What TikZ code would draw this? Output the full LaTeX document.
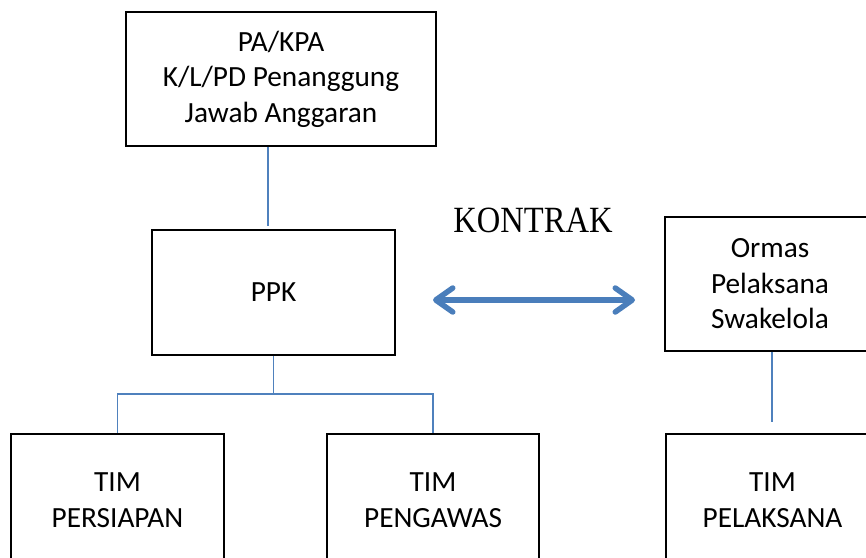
\documentclass[tikz,border=0pt]{standalone}
\usepackage{fontspec}
\setmainfont{Carlito}
\newfontfamily\kontrakfont[FakeStretch=0.88]{Liberation Serif}
\usetikzlibrary{arrows.meta}
\definecolor{linkblue}{HTML}{4F81BD}
\definecolor{arrowblue}{HTML}{4A7EBB}
\begin{document}
\begin{tikzpicture}[x=1pt,y=-1pt,
  box/.style={draw=black, line width=1.8pt, align=center, inner sep=0pt,
    font=\fontsize{29.3}{35.5}\selectfont},
  link/.style={draw=linkblue, line width=1.7pt},
  twoway/.style={draw=arrowblue, line width=5.5pt,
    {Straight Barb[round, length=17pt, width=24pt]}-{Straight Barb[round, length=17pt, width=24pt]}},
]
\useasboundingbox (0,0) rectangle (866,557);

% organisation boxes
\node[box, minimum width=310pt, minimum height=134pt] (pa) at (281,79)
  {PA/KPA\\K/L/PD Penanggung\\Jawab Anggaran};
\node[box, minimum width=243pt, minimum height=125pt] (ppk) at (273.5,292.5) {PPK};
\node[box, minimum width=210pt, minimum height=134pt] (ormas) at (770,284)
  {Ormas\\Pelaksana\\Swakelola};
\node[box, minimum width=213pt, minimum height=132pt] (persiapan) at (117.5,500)
  {TIM\\PERSIAPAN};
\node[box, minimum width=212pt, minimum height=132pt] (pengawas) at (433,500)
  {TIM\\PENGAWAS};
\node[box, minimum width=213pt, minimum height=132pt] (pelaksana) at (772.5,500)
  {TIM\\PELAKSANA};

% contract label and double arrow
\node[font=\kontrakfont\fontsize{37}{40}\selectfont] (kontrak) at (533,220) {KONTRAK};
\coordinate (kl) at (433,300);
\coordinate (kr) at (635,300);
\draw[twoway] (kl) -- (kr);

% connectors
\coordinate (paend) at (268,226);
\draw[link] (pa.south -| paend) -- (paend);
\coordinate (bus) at (273.5,394);
\draw[link] (ppk.south) -- (bus);
\draw[link] (persiapan.north) |- (bus) -| (pengawas.north);
\coordinate (ormasend) at (772,422);
\draw[link] (ormas.south -| ormasend) -- (ormasend);
\end{tikzpicture}
\end{document}
